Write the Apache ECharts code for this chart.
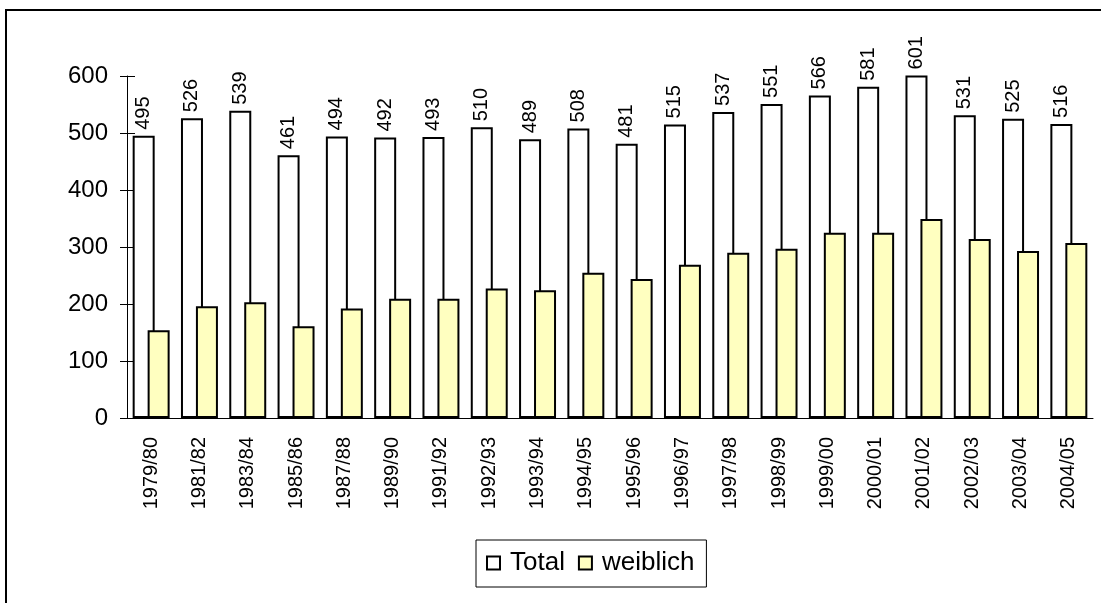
<!DOCTYPE html>
<html>
<head>
<meta charset="utf-8">
<script src="https://cdn.jsdelivr.net/npm/echarts@6/dist/echarts.min.js"></script>
<style>
* { margin: 0; padding: 0; }
html, body { width: 1101px; height: 603px; background: #fff; overflow: hidden; }
#chart { width: 1101px; height: 603px; }
</style>
</head>
<body>
<div id="chart"></div>
<script>
// Studierende pro Jahrgang
var years = ['1979/80', '1981/82', '1983/84', '1985/86', '1987/88', '1989/90', '1991/92', '1992/93', '1993/94', '1994/95',
  '1995/96', '1996/97', '1997/98', '1998/99', '1999/00', '2000/01', '2001/02', '2002/03', '2003/04', '2004/05'];
var total = [495, 526, 539, 461, 494, 492, 493, 510, 489, 508, 481, 515, 537, 551, 566, 581, 601, 531, 525, 516];
var weiblich = [154, 196, 203, 161, 192, 209, 209, 227, 224, 255, 244, 269, 290, 297, 325, 325, 349, 314, 293, 307];
var seriesNames = ['Total', 'weiblich'];

var font = 'Arial, "Liberation Sans", sans-serif';

var chart = echarts.init(document.getElementById('chart'));
chart.setOption({
  animation: false,
  textStyle: { fontFamily: font, color: '#000' },
  graphic: [{
    type: 'rect',
    shape: { x: 6, y: 10, width: 1200, height: 700 },
    style: { fill: null, stroke: '#000', lineWidth: 2 },
    silent: true
  }],
  grid: { left: 127, right: 8, top: 76, bottom: 185 },
  legend: {
    data: seriesNames,
    left: 476,
    top: 540,
    padding: [10, 12, 11, 10],
    icon: 'rect',
    itemWidth: 13,
    itemHeight: 13,
    itemGap: 13,
    borderColor: '#000',
    borderWidth: 1,
    textStyle: { fontSize: 26, fontFamily: font, color: '#000', padding: [0, 0, 0, 5] }
  },
  xAxis: {
    type: 'category',
    data: years,
    axisLine: { lineStyle: { color: '#000', width: 1 } },
    axisTick: { length: 7, lineStyle: { color: '#000' } },
    axisLabel: { rotate: 90, fontSize: 20, color: '#000', margin: 19, interval: 0 }
  },
  yAxis: [{
    // Striche kreuzen die Achse: Achse um 8px nach innen versetzt, Striche 15px lang
    type: 'value',
    offset: -8,
    min: 0,
    max: 600,
    interval: 100,
    splitLine: { show: false },
    axisLine: { show: false },
    axisTick: { show: true, length: 15, lineStyle: { color: '#000' } },
    axisLabel: { fontSize: 24, color: '#000', margin: 27 }
  }, {
    // Achsenlinie
    type: 'value',
    position: 'left',
    offset: 0,
    min: 0,
    max: 600,
    interval: 100,
    splitLine: { show: false },
    axisLine: { show: true, lineStyle: { color: '#000' } },
    axisTick: { show: false },
    axisLabel: { show: false }
  }],
  series: [{
    name: seriesNames[0],
    type: 'bar',
    data: total,
    barWidth: 22,
    barGap: '-32%',
    clip: false,
    itemStyle: { color: '#ffffff', borderColor: '#000', borderWidth: 2 },
    label: {
      show: true,
      position: 'top',
      rotate: 90,
      align: 'left',
      verticalAlign: 'middle',
      distance: 6,
      fontSize: 20,
      color: '#000'
    }
  }, {
    name: seriesNames[1],
    type: 'bar',
    yAxisIndex: 1,
    data: weiblich,
    barWidth: 22,
    itemStyle: { color: '#ffffc0', borderColor: '#000', borderWidth: 2 }
  }]
});
</script>
</body>
</html>
